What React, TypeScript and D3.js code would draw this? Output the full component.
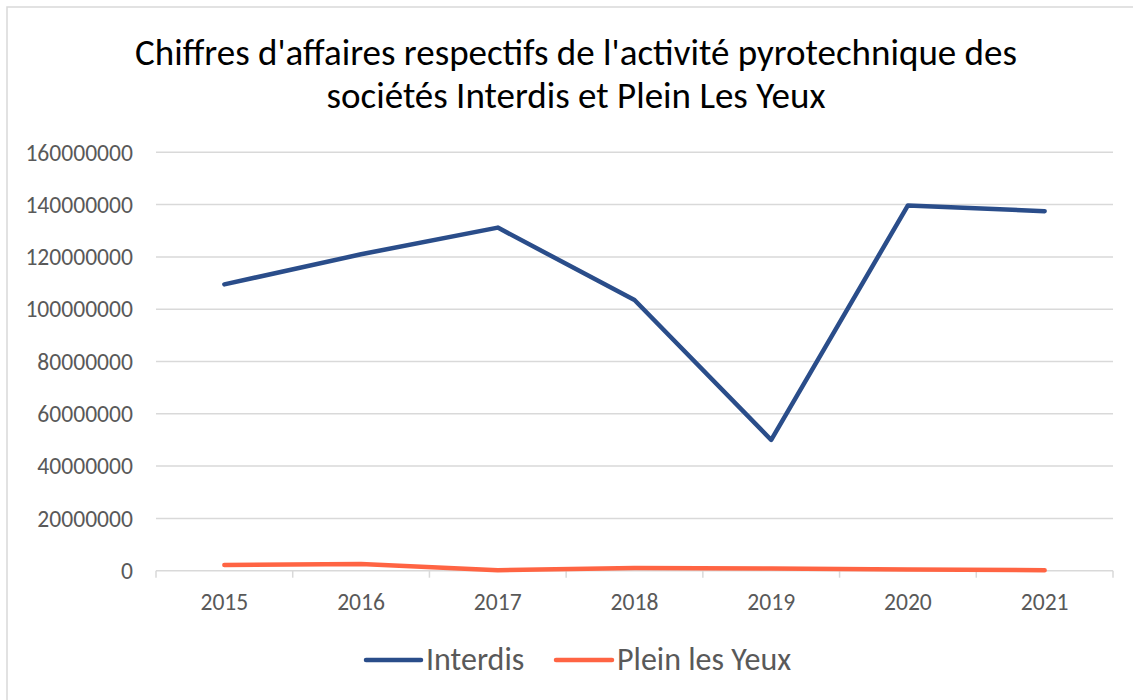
import React from "react";
import * as d3 from "d3";

const titleLines = [
  "Chiffres d'affaires respectifs de l'activité pyrotechnique des",
  "sociétés Interdis et Plein Les Yeux",
];
const years = ["2015", "2016", "2017", "2018", "2019", "2020", "2021"];
const interdis = [109500000, 121000000, 131200000, 103500000, 50000000, 139700000, 137500000];
const pleinLesYeux = [2200000, 2600000, 200000, 1000000, 800000, 500000, 200000];
const yTicks = [0, 20000000, 40000000, 60000000, 80000000, 100000000, 120000000, 140000000, 160000000];
const seriesNames = ["Interdis", "Plein les Yeux"];
const seriesColors = ["#2a4d8a", "#ff6443"];

const W = 1133;
const H = 700;
const plot = { left: 156, right: 1113, top: 152.3, bottom: 570.7 };
const FONT = "Carlito, Calibri, Lato, sans-serif";

export default function App() {
  const x = d3.scaleBand<string>().domain(years).range([plot.left, plot.right]).padding(0);
  const y = d3.scaleLinear().domain([0, 160000000]).range([plot.bottom, plot.top]);
  const line = d3
    .line<number>()
    .x((_, i) => (x(years[i]) as number) + x.bandwidth() / 2)
    .y((d) => y(d));
  const series = [interdis, pleinLesYeux];
  const boundaries = years.map((yr) => x(yr) as number).concat([plot.right]);

  const legendItems = [
    { x1: 366, x2: 421, tx: 426 },
    { x1: 556, x2: 612, tx: 617 },
  ];

  return (
    <svg
      width={W}
      height={H}
      style={{ position: "absolute", left: 0, top: 0, background: "#fff" }}
      fontFamily={FONT}
    >
      <rect x={7} y={7} width={W + 10} height={H + 10} fill="#fff" stroke="#d9d9d9" strokeWidth={1.5} />
      {titleLines.map((t, i) => (
        <text key={i} x={576} y={65 + i * 43} textAnchor="middle" fontSize={37} fill="#000">
          {t}
        </text>
      ))}
      {yTicks.map((t) => (
        <g key={t}>
          {t !== 0 && (
            <line x1={plot.left} x2={plot.right} y1={y(t)} y2={y(t)} stroke="#d9d9d9" strokeWidth={1.5} />
          )}
          <text x={133} y={y(t)} dy="0.35em" textAnchor="end" fontSize={23.6} fill="#595959">
            {String(t)}
          </text>
        </g>
      ))}
      <line x1={plot.left} x2={plot.right} y1={plot.bottom} y2={plot.bottom} stroke="#d9d9d9" strokeWidth={1.5} />
      {boundaries.map((bx, i) => (
        <line key={i} x1={bx} x2={bx} y1={plot.bottom} y2={plot.bottom + 7} stroke="#d9d9d9" strokeWidth={1.5} />
      ))}
      {years.map((yr) => (
        <text
          key={yr}
          x={(x(yr) as number) + x.bandwidth() / 2}
          y={609.5}
          textAnchor="middle"
          fontSize={23.6}
          fill="#595959"
        >
          {yr}
        </text>
      ))}
      {series.map((s, i) => (
        <path
          key={i}
          d={line(s) || ""}
          fill="none"
          stroke={seriesColors[i]}
          strokeWidth={4.5}
          strokeLinecap="round"
          strokeLinejoin="round"
        />
      ))}
      {legendItems.map((it, i) => (
        <g key={i}>
          <line x1={it.x1} x2={it.x2} y1={660} y2={660} stroke={seriesColors[i]} strokeWidth={4.5} strokeLinecap="round" />
          <text x={it.tx} y={669.5} fontSize={32} fill="#595959">
            {seriesNames[i]}
          </text>
        </g>
      ))}
    </svg>
  );
}
